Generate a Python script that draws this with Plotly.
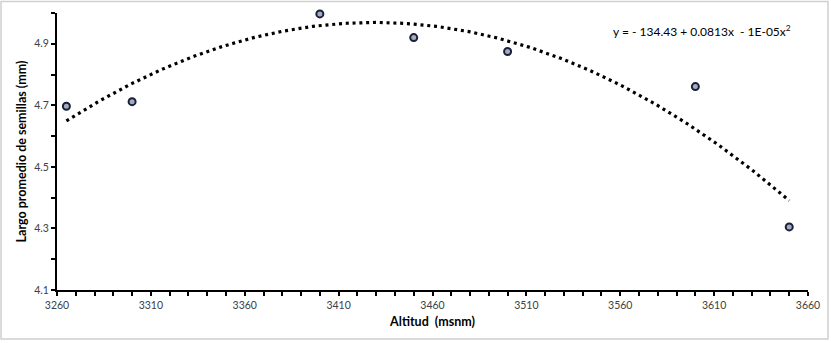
import numpy as np
import plotly.graph_objects as go

altitud = [3265, 3300, 3400, 3450, 3500, 3600, 3650]
largo = [4.697, 4.712, 4.997, 4.920, 4.875, 4.761, 4.305]
x_ticks = [3260, 3310, 3360, 3410, 3460, 3510, 3560, 3610, 3660]
y_ticks = [4.1, 4.3, 4.5, 4.7, 4.9]
equation = "y = - 134.43 + 0.0813x  - 1E-05x<sup>2</sup>"

coef = np.polyfit(altitud, largo, 2)
xf = np.linspace(min(altitud), max(altitud), 300)
yf = np.polyval(coef, xf)

W, H = 831, 343
ml, mr, mt, mb = 57, 23, 13, 53
font = "Lato, Open Sans, sans-serif"

fig = go.Figure()
fig.add_trace(go.Scatter(x=xf, y=yf, mode="lines",
                         line=dict(color="black", width=3.2, dash="3px,3.8px"),
                         hoverinfo="skip", showlegend=False))
fig.add_trace(go.Scatter(x=altitud, y=largo, mode="markers", cliponaxis=False,
                         marker=dict(size=7, color="#a4acbd", line=dict(color="#1a1f3a", width=2)),
                         showlegend=False))

pw = W - ml - mr
ph = H - mt - mb
fig.add_shape(type="rect", xref="paper", yref="paper",
              x0=(1 - ml) / pw, x1=(W - 3 - ml) / pw,
              y0=-(H - 4 - mt - ph) / ph, y1=1 + (mt - 1.5) / ph,
              line=dict(color="#d0d0d0", width=1.5), fillcolor="rgba(0,0,0,0)", layer="below")

fig.add_annotation(x=0.98, y=0.935, xref="paper", yref="paper", text=equation,
                   showarrow=False, xanchor="right", yanchor="middle",
                   font=dict(family=font, size=12, color="#000000"))

fig.update_layout(
    width=W, height=H,
    margin=dict(l=ml, r=mr, t=mt, b=mb),
    plot_bgcolor="white", paper_bgcolor="white",
    font=dict(family=font, color="#404040"),
    xaxis=dict(range=[3260, 3660], tickvals=x_ticks, ticktext=[str(v) for v in x_ticks],
               showgrid=False, zeroline=False, showline=True, linecolor="black", linewidth=2,
               ticks="outside", ticklen=4, tickwidth=1.5, tickcolor="black",
               tickfont=dict(size=10.5, color="#404040"),
               minor=dict(dtick=10, tick0=3260, ticks="outside", ticklen=4, tickwidth=1.5, tickcolor="black", showgrid=False),
               title=dict(text="<b>Altitud  (msnm)</b>", font=dict(size=12.5, color="#000000"), standoff=8)),
    yaxis=dict(range=[4.1, 5.0], tickvals=y_ticks, ticktext=["4.1", "4.3", "4.5", "4.7", "4.9"],
               showgrid=False, zeroline=False, showline=True, linecolor="black", linewidth=2,
               ticks="outside", ticklen=4, tickwidth=1.5, tickcolor="black",
               tickfont=dict(size=10.5, color="#404040"),
               minor=dict(dtick=0.1, tick0=4.1, ticks="outside", ticklen=4, tickwidth=1.5, tickcolor="black", showgrid=False),
               title=dict(text="<b>Largo promedio de semillas (mm)</b>", font=dict(size=12.5, color="#000000"), standoff=5)),
)

fig.write_html("out.html", config={"displayModeBar": False},
               post_script="document.body.style.margin='0';document.body.style.overflow='hidden';")
